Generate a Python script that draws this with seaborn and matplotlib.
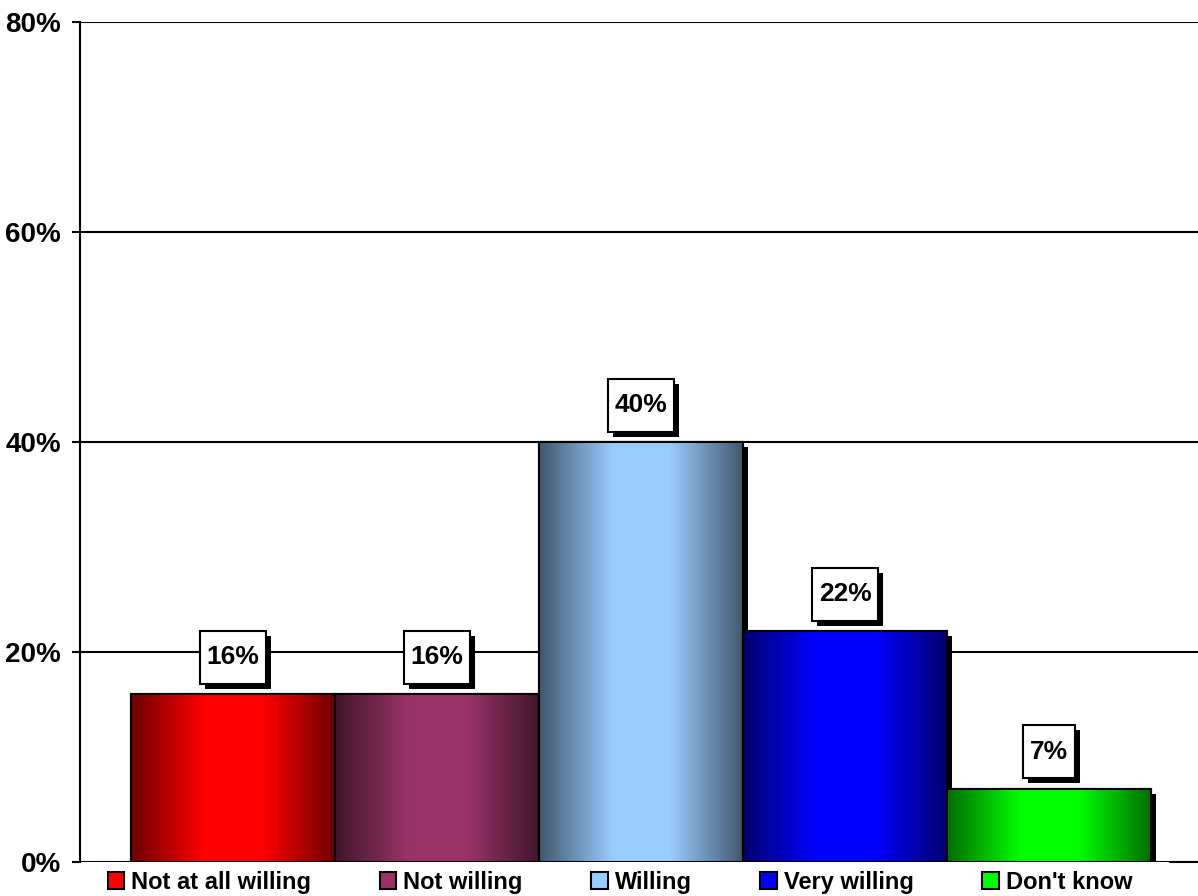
import numpy as np
import pandas as pd
import matplotlib
matplotlib.use("Agg")
import matplotlib.pyplot as plt
import matplotlib.patheffects as pe
from matplotlib.patches import Patch, Rectangle
from matplotlib.path import Path
from matplotlib.colors import to_rgb
import seaborn as sns

# Survey responses: share of respondents per answer
categories = ["Not at all willing", "Not willing", "Willing", "Very willing", "Don't know"]
values = [16, 16, 40, 22, 7]
colors = ["#FF0000", "#993366", "#99CCFF", "#0000FF", "#00FF00"]
y_ticks = [0, 20, 40, 60, 80]
y_tick_labels = ["0%", "20%", "40%", "60%", "80%"]

sns.set_theme(style="white")
plt.rcParams["font.family"] = ["Liberation Sans", "DejaVu Sans"]
plt.rcParams["font.weight"] = "bold"
for key in ["text.color", "axes.labelcolor", "xtick.color", "ytick.color"]:
    plt.rcParams[key] = "black"

df = pd.DataFrame({"answer": categories, "share": values})

fig = plt.figure(figsize=(11.98, 8.96), dpi=100)
ax = fig.add_axes([80 / 1198, 1 - 862 / 896, 1 - 80 / 1198, (862 - 22) / 896])

sns.barplot(data=df, x="answer", y="share", hue="answer", palette=colors,
            width=1.0, saturation=1, legend=False, ax=ax,
            edgecolor="black", linewidth=1.5)

# Horizontal shading profile: dark at both sides, bright across the middle
t = np.linspace(0, 1, 512)
shade = np.interp(t, [0, 0.12, 0.36, 0.64, 0.88, 1.0],
                  [0.42, 0.62, 1.0, 1.0, 0.62, 0.42])

shadow = [pe.SimplePatchShadow(offset=(3.6, -3.6), shadow_rgbFace="black", alpha=1.0),
          pe.Normal()]

for i, (patch, col) in enumerate(zip(ax.patches, colors)):
    z = 2 + i
    patch.set_zorder(z)
    patch.set_path_effects(shadow)
    x0, y0 = patch.get_xy()
    w, h = patch.get_width(), patch.get_height()
    rgb = np.array(to_rgb(col))
    grad = (shade[:, None] * rgb[None, :])[None, :, :]
    im = ax.imshow(grad, extent=[x0, x0 + w, y0, y0 + h], aspect="auto",
                   interpolation="nearest", zorder=z + 0.1)
    im.set_clip_path(patch)
    ax.add_patch(Rectangle((x0, y0), w, h, fill=False, edgecolor="black",
                           linewidth=1.5, zorder=z + 0.2))


def label_box(x0, y0, width, height, mutation_size):
    """Rectangular frame with more room above and below than at the sides."""
    px = 0.25 * mutation_size
    py = 0.55 * mutation_size
    x0, y0 = x0 - px, y0 - py
    x1, y1 = x0 + width + 2 * px, y0 + height + 2 * py
    return Path([(x0, y0), (x1, y0), (x1, y1), (x0, y1), (x0, y0)], closed=True)


# Value labels in framed boxes with a drop shadow
for patch, v in zip(ax.patches[:len(values)], values):
    cx = patch.get_x() + patch.get_width() / 2
    ann = ax.annotate(f"{v}%", xy=(cx, v), xytext=(0, 26.5),
                      textcoords="offset points", ha="center", va="center",
                      fontsize=19, fontweight="bold", color="black", zorder=30,
                      bbox=dict(boxstyle=label_box, fc="white", ec="black", lw=1.5))
    ann.get_bbox_patch().set_path_effects(
        [pe.SimplePatchShadow(offset=(3.6, -3.6), shadow_rgbFace="black", alpha=1.0),
         pe.Normal()])

ax.set_xlim(-0.75, 4.73)
ax.set_ylim(0, 80)
ax.set_yticks(y_ticks)
ax.set_yticklabels(y_tick_labels, fontsize=20, fontweight="bold", color="black")
ax.set_xticks([])
ax.set_xlabel("")
ax.set_ylabel("")

ax.set_axisbelow(True)
ax.yaxis.grid(True, color="black", linewidth=1.5)
ax.xaxis.grid(False)
ax.tick_params(axis="y", which="major", left=True, length=6, width=1.5,
               color="black", pad=7.5, direction="out")

for side in ["top", "right", "bottom"]:
    ax.spines[side].set_visible(False)
ax.spines["left"].set_color("black")
ax.spines["left"].set_linewidth(1.5)

# Short floor segment at the right end of the category axis
ax.axhline(0, xmin=(1170 - 80) / 1118, xmax=1.0, color="black", lw=1.5,
           clip_on=False, zorder=1)

handles = [Patch(facecolor=c, edgecolor="black", linewidth=1.5) for c in colors]
leg = fig.legend(handles, categories, loc="center", ncol=5,
                 bbox_to_anchor=(620 / 1198, 1 - 882 / 896), frameon=False,
                 prop={"size": 17, "weight": "bold"}, handlelength=0.7,
                 handleheight=0.7, handletextpad=0.3, columnspacing=2.9,
                 borderpad=0, borderaxespad=0)
for txt in leg.get_texts():
    txt.set_color("black")

fig.savefig("out.png", dpi=100)
